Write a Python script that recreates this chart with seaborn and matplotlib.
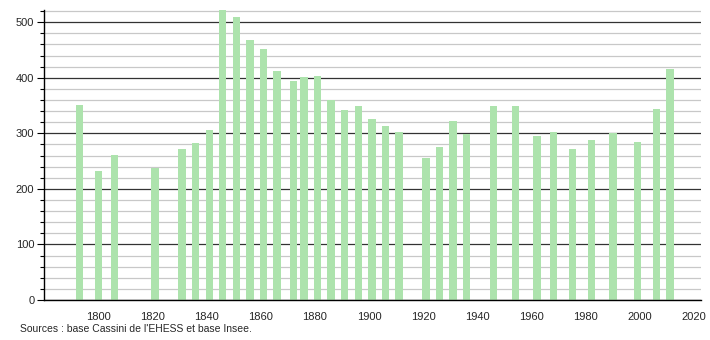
import matplotlib
matplotlib.use("Agg")
import matplotlib.pyplot as plt
import seaborn as sns
import pandas as pd
from matplotlib.ticker import MultipleLocator

years = [1793, 1800, 1806, 1821, 1831, 1836, 1841, 1846, 1851, 1856, 1861, 1866,
         1872, 1876, 1881, 1886, 1891, 1896, 1901, 1906, 1911, 1921, 1926, 1931,
         1936, 1946, 1954, 1962, 1968, 1975, 1982, 1990, 1999, 2006, 2011]
population = [351, 232, 261, 238, 272, 283, 306, 525, 510, 468, 452, 413,
              395, 401, 404, 360, 342, 350, 326, 314, 303, 256, 276, 323,
              299, 350, 350, 295, 303, 272, 288, 301, 285, 344, 416]
x_ticks = [1800, 1820, 1840, 1860, 1880, 1900, 1920, 1940, 1960, 1980, 2000, 2020]
y_ticks = [0, 100, 200, 300, 400, 500]
source_text = "Sources : base Cassini de l'EHESS et base Insee."

sns.set_theme(style="white")
plt.rcParams['font.family'] = ['Liberation Sans', 'DejaVu Sans']

df = pd.DataFrame({"year": years, "pop": population})

fig = plt.figure(figsize=(7.1, 3.4), dpi=100)
ax = fig.add_axes([44/710, 40/340, (701-44)/710, 290/340])

ax.set_xlim(1780, 2022.5)
ax.set_ylim(0, 522)

# grid
ax.yaxis.set_major_locator(MultipleLocator(100))
ax.yaxis.set_minor_locator(MultipleLocator(20))
ax.grid(which="minor", axis="y", color="#c8c8c8", linewidth=0.9)
ax.grid(which="major", axis="y", color="#333333", linewidth=0.9)
ax.set_axisbelow(True)

sns.barplot(data=df, x="year", y="pop", native_scale=True, width=0.68,
            color="#ade3ad", saturation=1, ax=ax, zorder=3,
            linewidth=0, edgecolor="#ade3ad")

ax.set_xticks(x_ticks)
ax.set_xticklabels([str(t) for t in x_ticks])
ax.set_yticks(y_ticks)
ax.set_yticklabels([str(t) for t in y_ticks])
ax.set_xlim(1780, 2022.5)
ax.set_ylim(0, 522)
ax.set_xlabel("")
ax.set_ylabel("")

for s in ["top", "right"]:
    ax.spines[s].set_visible(False)
ax.spines["left"].set_color("black")
ax.spines["bottom"].set_color("black")
ax.spines["left"].set_linewidth(1)
ax.spines["bottom"].set_linewidth(1)
ax.spines["left"].set_zorder(5)
ax.spines["bottom"].set_zorder(5)

ax.tick_params(axis="y", which="major", left=True, length=5, width=0.8, color="black",
               labelsize=8, pad=2)
ax.tick_params(axis="y", which="minor", left=True, length=3, width=0.8, color="black")
ax.tick_params(axis="x", which="major", bottom=False, labelsize=8, pad=3)

fig.text(20/710, 1 - 329/340, source_text, fontsize=7.5, va="center", ha="left")

fig.savefig("out.png", dpi=100, facecolor="white")
